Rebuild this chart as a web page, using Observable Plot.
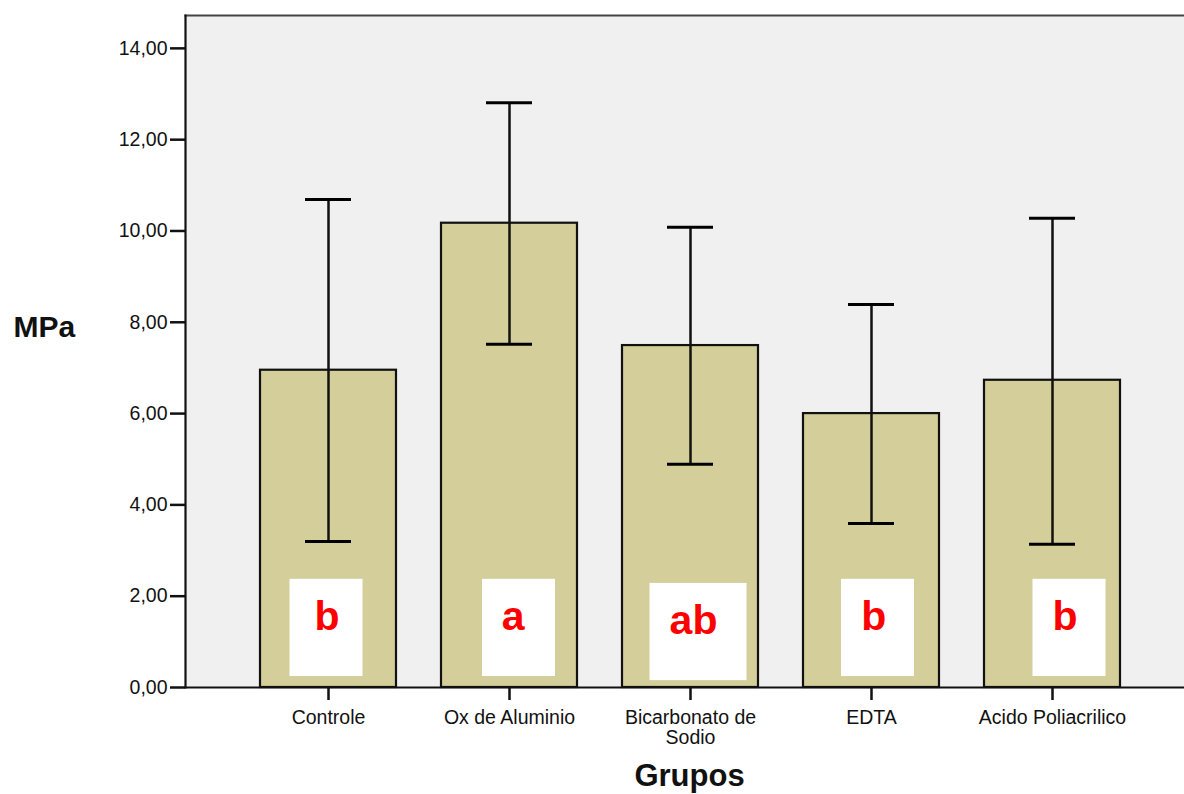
<!DOCTYPE html>
<html><head><meta charset="utf-8">
<script src="https://cdn.jsdelivr.net/npm/d3@7"></script>
<script src="https://cdn.jsdelivr.net/npm/@observablehq/plot@0.6"></script>
<style>body{margin:0;background:#fff;}</style>
</head><body><div id="chart"></div>
<script>
const groups = ["Controle", "Ox de Aluminio", "Bicarbonato de\nSodio", "EDTA", "Acido Poliacrilico"];
const means = [6.95, 10.17, 7.49, 6.00, 6.73];
const lower = [3.20, 7.52, 4.89, 3.59, 3.14];
const upper = [10.69, 12.81, 10.08, 8.39, 10.28];
const letters = ["b", "a", "ab", "b", "b"];
const boxLow = [0.24, 0.24, 0.15, 0.24, 0.24];
const boxHigh = [2.37, 2.37, 2.28, 2.37, 2.37];
const yTicks = [0, 2, 4, 6, 8, 10, 12, 14];

// layout nudges (pixels) for the hand-placed letter boxes
const boxShift = [-2, 9.5, 8, 6.5, 17];
const boxWidth = [73, 73, 97, 73, 73];
const letterShift = [-1.5, 3.7, 3, 2.3, 12.5];

const rows = groups.map((g, i) => ({group: g, mean: means[i], lower: lower[i], upper: upper[i],
  letter: letters[i], bl: boxLow[i], bh: boxHigh[i]}));

const FONT = "'Liberation Sans', Arial, Helvetica, sans-serif";
const BW = 136;

const boxMarks = rows.map((r, i) => Plot.barY([r], {
  x: "group", y1: "bl", y2: "bh", fill: "white",
  insetLeft: (BW - boxWidth[i]) / 2 + boxShift[i],
  insetRight: (BW - boxWidth[i]) / 2 - boxShift[i]
}));
const letterMarks = rows.map((r, i) => Plot.text([r], {
  x: "group", y: d => (d.bl + d.bh) / 2, text: "letter", fill: "#ff0000",
  fontSize: 41, fontWeight: "bold", dx: letterShift[i], dy: -11
}));

const chart = Plot.plot({
  width: 1184,
  height: 794,
  marginLeft: 185,
  marginRight: 0,
  marginTop: 15,
  marginBottom: 107,
  style: {fontFamily: FONT, fontSize: "19.5px", color: "#111", background: "white"},
  x: {domain: groups, paddingInner: 0.25, paddingOuter: 0.377, align: 0.537, label: null},
  y: {domain: [0, 14.72], label: null},
  marks: [
    Plot.frame({fill: "#f0f0f0", stroke: null}),
    Plot.frame({anchor: "top", stroke: "#444", strokeWidth: 2}),
    Plot.barY(rows, {x: "group", y: "mean", fill: "#d3ce9a", stroke: "#111", strokeWidth: 2.2}),
    Plot.ruleX(rows, {x: "group", y1: "lower", y2: "upper", stroke: "#111", strokeWidth: 2.5}),
    Plot.tickY(rows, {x: "group", y: "lower", insetLeft: 45, insetRight: 45, stroke: "#000", strokeWidth: 3}),
    Plot.tickY(rows, {x: "group", y: "upper", insetLeft: 45, insetRight: 45, stroke: "#000", strokeWidth: 3}),
    ...boxMarks,
    ...letterMarks,
    Plot.axisY({ticks: yTicks, tickFormat: d => d.toFixed(2).replace(".", ","), tickSize: 15, tickPadding: 3,
      fontSize: 19.5, strokeWidth: 2.5, stroke: "#111", label: null}),
    Plot.axisX({tickSize: 13, tickPadding: 9, fontSize: 19.5, strokeWidth: 2.5, stroke: "#111", label: null, lineHeight: 1.03}),
    Plot.ruleY([0], {stroke: "#111", strokeWidth: 2}),
    Plot.frame({anchor: "left", stroke: "#111", strokeWidth: 2.2}),
    Plot.text(["MPa"], {frameAnchor: "left", textAnchor: "start", dx: -172, dy: -24, fontSize: 30, fontWeight: "bold", fill: "#111"}),
    Plot.text(["Grupos"], {frameAnchor: "bottom", dx: 4.5, dy: 98, fontSize: 31, fontWeight: "bold", fill: "#111"})
  ]
});
document.getElementById("chart").appendChild(chart);
</script>
</body></html>
